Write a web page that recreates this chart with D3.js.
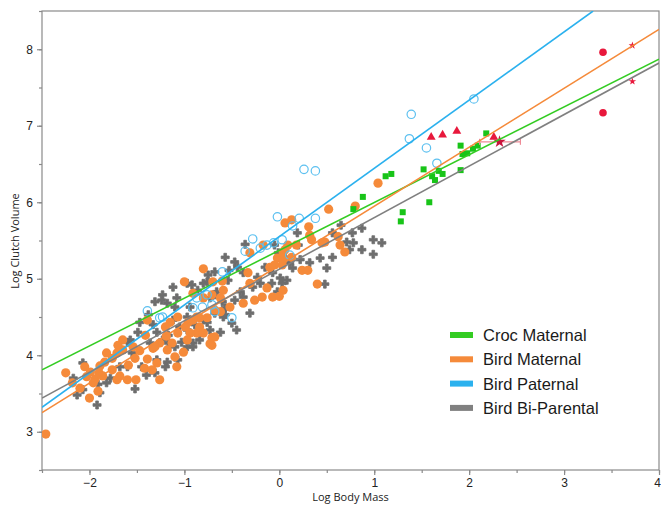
<!DOCTYPE html>
<html>
<head>
<meta charset="utf-8">
<script src="https://cdn.jsdelivr.net/npm/d3@7"></script>
<style>
  body { margin: 0; background: #fff; }
  svg { display: block; font-family: "Open Sans", "DejaVu Sans", sans-serif; }
</style>
</head>
<body>
<script>
// ---- data (log body mass, log clutch volume) ----
const birdMaternal = [
  [-2.46,2.97],[-2.25,3.77],[-2.05,3.85],[-1.99,3.78],[-2.03,3.72],[-1.94,3.69],[-2.00,3.44],[-1.91,3.53],
  [-1.96,3.64],[-1.82,4.03],[-1.84,3.91],[-1.76,3.96],[-1.71,4.03],[-1.65,4.07],[-1.71,3.68],[-1.60,3.68],
  [-1.51,3.68],[-1.59,3.87],[-1.52,3.96],[-1.47,4.06],[-1.39,3.95],[-1.33,4.09],[-1.26,4.16],[-1.19,4.25],
  [-1.18,4.07],[-1.10,3.98],[-1.08,3.85],[-1.13,4.16],[-1.76,3.81],[-1.90,3.77],[-0.68,4.24],[-0.71,4.13],
  [-0.96,4.43],[-0.87,4.29],[-0.84,4.37],[-0.94,4.29],[-1.29,3.90],[-1.54,4.11],[-1.65,4.20],[-0.80,5.13],
  [-1.00,4.96],[-0.91,4.81],[-0.80,4.75],[-0.70,4.96],[-0.59,4.85],[-0.62,4.75],[-0.87,4.50],[-1.07,4.50],
  [-1.39,4.46],[-0.60,4.97],[-0.71,4.79],[-0.33,5.08],[-0.31,4.94],[-0.13,4.88],[-0.18,4.76],[-0.26,4.72],
  [-0.07,4.76],[0.04,4.85],[-0.38,4.68],[-0.52,4.63],[-0.62,4.57],[-0.68,4.59],[-0.76,4.49],[-0.84,4.49],
  [-0.91,4.46],[-0.99,4.37],[-1.15,4.43],[-1.20,4.37],[-0.80,4.29],[-0.71,4.23],[-0.73,4.15],[-1.31,4.11],
  [-0.17,5.44],[-0.31,5.34],[-0.02,5.27],[0.03,5.18],[0.06,5.38],[-0.10,5.15],[1.04,6.25],[0.52,5.91],
  [0.80,5.95],[0.06,5.73],[0.13,5.77],[0.31,5.68],[0.32,5.57],[0.34,5.51],[0.45,5.47],[0.48,5.48],
  [0.62,5.55],[0.64,5.44],[0.69,5.35],[0.18,5.44],[0.09,5.44],[0.04,5.35],[0.04,5.25],[-0.05,5.18],
  [0.13,5.28],[0.24,5.11],[0.30,5.11],[0.40,4.93],[0.00,4.77],
  [-2.18,3.64],[-2.10,3.57],[-1.86,3.73],[-1.68,3.73],[-1.42,3.83],[-1.34,3.81],[-1.01,4.04],[-0.97,4.20],
  [-1.07,4.29],[-1.41,4.26],[-1.70,4.13],[-1.89,3.86],[-1.26,3.68]
];

const birdBiParental = [
  [-2.07,3.90],[-2.17,3.70],[-2.13,3.48],[-2.07,3.55],[-1.92,3.35],[-1.89,3.51],[-1.82,3.64],[-1.91,3.62],
  [-1.68,3.85],[-1.60,3.85],[-1.52,3.56],[-1.45,3.85],[-1.40,3.74],[-1.31,3.77],[-1.29,3.94],[-1.60,4.17],
  [-1.49,4.30],[-1.36,4.16],[-1.17,4.16],[-1.18,3.91],[-1.10,4.11],[-1.55,4.03],[-1.78,3.70],[-1.20,3.85],
  [-1.07,3.94],[-0.97,4.11],[-0.91,4.16],[-0.76,4.43],[-0.68,4.55],[-1.18,4.68],[-1.31,4.70],[-1.57,4.20],
  [-1.05,4.37],[-0.97,4.50],[-1.10,4.63],[-1.12,4.89],[-1.23,4.79],[-1.47,4.43],[-1.38,4.53],[-0.92,4.92],
  [-0.76,4.96],[-0.68,5.09],[-0.57,5.28],[-0.54,4.98],[-0.66,4.83],[-0.73,4.75],[-0.59,4.50],[-0.80,4.46],
  [-1.12,4.46],[-0.47,5.22],[-0.44,5.15],[-0.38,5.08],[-0.53,5.11],[-0.36,5.45],[-0.23,5.02],[-0.20,4.94],
  [-0.28,4.89],[-0.15,5.15],[-0.07,5.08],[-0.08,4.94],[-0.02,4.83],[0.03,4.94],[0.08,4.98],[-0.01,5.34],
  [0.06,5.28],[-0.75,5.05],[-0.80,4.94],[-0.86,4.85],[-0.97,4.94],[-1.24,4.72],[-1.08,4.75],[-0.94,4.63],
  [-0.68,4.79],[-0.60,4.70],[-0.57,4.62],[-0.47,4.72],[-0.57,4.53],[-0.50,4.42],[-0.45,4.33],[-0.31,4.55],
  [-0.62,4.30],[-0.73,4.33],[-0.89,4.40],[-0.97,4.33],[-1.03,4.17],[-1.17,4.26],[-1.23,4.20],[-1.29,4.30],
  [-1.33,4.40],[-0.84,4.20],[-0.91,4.11],[0.65,5.70],[0.56,5.60],[0.77,5.60],[0.87,5.66],[0.99,5.51],
  [1.08,5.47],[0.78,5.47],[0.87,5.38],[0.74,5.38],[0.56,5.28],[0.43,5.27],[0.32,5.21],[0.22,5.25],
  [0.11,5.21],[0.14,5.14],[0.50,5.14],[0.48,4.93],[0.99,5.32],[0.19,5.60],[0.20,5.44],[-0.05,5.44],
  [0.01,5.01],[0.71,5.48],[-0.41,4.83],[-0.38,4.76]
];

const birdPaternal = [
  [-1.39,4.58],[-1.26,4.49],[-1.23,4.50],[-0.91,4.62],[-0.81,4.63],[-0.71,4.66],[-0.68,4.57],[-0.87,4.75],
  [-0.76,4.79],[-0.60,5.09],[-0.50,4.49],[-0.36,5.36],[-0.28,5.52],[-0.20,5.40],[-0.13,5.44],[-0.06,5.47],
  [0.03,5.51],[0.11,5.31],[-0.02,5.81],[0.14,5.69],[0.21,5.79],[0.38,5.79],[0.26,6.43],[0.38,6.41],
  [1.37,6.83],[1.39,7.15],[1.55,6.71],[1.66,6.51],[2.05,7.35]
];

const crocMaternal = [
  [0.78,5.91],[0.88,6.07],[1.12,6.34],[1.18,6.37],[1.28,5.75],[1.30,5.87],[1.52,6.43],[1.58,6.00],
  [1.61,6.34],[1.64,6.29],[1.68,6.41],[1.72,6.37],[1.91,6.74],[1.91,6.42],[1.93,6.63],[1.98,6.64],
  [2.04,6.70],[2.09,6.74],[2.18,6.90]
];

const redTriangles = [[1.60,6.85],[1.72,6.88],[1.87,6.93],[2.26,6.85]];
const redStar = { x: 2.32, y: 6.79, lo: 2.11, hi: 2.54 };
const redCircles = [[3.41,7.96],[3.41,7.17]];
const redSmall = [[3.72,8.05],[3.72,7.58]];

// fitted lines: [x0, y0, x1, y1]
const fitNames = ["Croc Maternal", "Bird Maternal", "Bird Paternal", "Bird Bi-Parental"];
const fitColors = ["#33cc22", "#f58a3a", "#2bb1ee", "#808080"];
const fitLines = [
  [-2.5, 3.81, 4.0, 7.87],
  [-2.5, 3.25, 4.0, 8.26],
  [-2.5, 3.32, 3.306, 8.5],
  [-2.5, 3.44, 4.0, 7.82]
];

const xTicks = [-2, -1, 0, 1, 2, 3, 4];
const yTicks = [3, 4, 5, 6, 7, 8];

// ---- layout ----
const W = 661, H = 508;
const plot = { left: 42, right: 659, top: 11, bottom: 470 };

const svg = d3.select("body").append("svg")
  .attr("width", W)
  .attr("height", H);

const x = d3.scaleLinear().domain([-2.5, 4]).range([plot.left, plot.right]);
const y = d3.scaleLinear().domain([2.5, 8.5]).range([plot.bottom, plot.top]);

// clip for the marks
svg.append("clipPath").attr("id", "clip")
  .append("rect")
  .attr("x", plot.left).attr("y", plot.top)
  .attr("width", plot.right - plot.left).attr("height", plot.bottom - plot.top);

// frame
svg.append("rect")
  .attr("x", plot.left).attr("y", plot.top)
  .attr("width", plot.right - plot.left).attr("height", plot.bottom - plot.top)
  .attr("fill", "none")
  .attr("stroke", "#8a8a8a")
  .attr("stroke-width", 1.2);

// axes
function styleAxis(g) {
  g.select(".domain").remove();
  g.selectAll(".tick line").attr("stroke", "#8a8a8a").attr("stroke-width", 1.2);
  g.selectAll(".tick text").attr("fill", "#222").style("font-size", "12px");
}

const minorX = d3.range(-2.5, 4.01, 0.5);
const minorY = d3.range(2.5, 8.51, 0.5);
const intFmt = d => d < 0 ? "\u2212" + Math.abs(d) : String(d);

svg.append("g")
  .attr("transform", "translate(0," + plot.bottom + ")")
  .call(d3.axisBottom(x).tickValues(minorX).tickSize(3).tickFormat(""))
  .call(styleAxis);
const xAxisG = svg.append("g")
  .attr("transform", "translate(0," + plot.bottom + ")")
  .call(d3.axisBottom(x).tickValues(xTicks).tickSize(5).tickPadding(3).tickFormat(intFmt))
  .call(styleAxis);
// last label sits on the edge of the picture, pull it in a little
xAxisG.selectAll(".tick text").filter(d => d === 4).attr("dx", "-2px");

svg.append("g")
  .attr("transform", "translate(" + plot.left + ",0)")
  .call(d3.axisLeft(y).tickValues(minorY).tickSize(3).tickFormat(""))
  .call(styleAxis);
svg.append("g")
  .attr("transform", "translate(" + plot.left + ",0)")
  .call(d3.axisLeft(y).tickValues(yTicks).tickSize(5).tickPadding(4).tickFormat(intFmt))
  .call(styleAxis);

// axis titles
svg.append("text")
  .attr("x", (plot.left + plot.right) / 2)
  .attr("y", 501)
  .attr("text-anchor", "middle")
  .style("font-size", "11px")
  .attr("fill", "#222")
  .text("Log Body Mass");

svg.append("text")
  .attr("transform", "translate(19," + 241 + ")rotate(-90)")
  .attr("text-anchor", "middle")
  .style("font-size", "11px")
  .attr("fill", "#222")
  .text("Log Clutch Volume");

const marks = svg.append("g").attr("clip-path", "url(#clip)");

// bi-parental crosses
marks.selectAll(".bi")
  .data(birdBiParental)
  .enter()
  .append("path")
    .attr("class", "bi")
    .attr("d", d3.symbol().type(d3.symbolCross).size(36))
    .attr("transform", d => "translate(" + x(d[0]) + "," + y(d[1]) + ")")
    .attr("fill", "#6e6e6e")
    .attr("stroke", "#6e6e6e")
    .attr("stroke-width", 0.8)
    .attr("stroke-linejoin", "round");

// maternal bird dots
marks.selectAll(".bm")
  .data(birdMaternal)
  .enter()
  .append("circle")
    .attr("class", "bm")
    .attr("cx", d => x(d[0]))
    .attr("cy", d => y(d[1]))
    .attr("r", 4.6)
    .attr("fill", "#f58a3a");

// paternal open circles
marks.selectAll(".bp")
  .data(birdPaternal)
  .enter()
  .append("circle")
    .attr("class", "bp")
    .attr("cx", d => x(d[0]))
    .attr("cy", d => y(d[1]))
    .attr("r", 4.2)
    .attr("fill", "none")
    .attr("stroke", "#5cc0f0")
    .attr("stroke-width", 1.2);

// croc squares
marks.selectAll(".cm")
  .data(crocMaternal)
  .enter()
  .append("rect")
    .attr("class", "cm")
    .attr("x", d => x(d[0]) - 3)
    .attr("y", d => y(d[1]) - 3)
    .attr("width", 6)
    .attr("height", 6)
    .attr("fill", "#18c418");

// red extras
const red = "#e8183c";
marks.selectAll(".rt")
  .data(redTriangles)
  .enter()
  .append("path")
    .attr("d", d3.symbol().type(d3.symbolTriangle).size(34))
    .attr("transform", d => "translate(" + x(d[0]) + "," + y(d[1]) + ")")
    .attr("fill", red);

marks.append("line")
  .attr("x1", x(redStar.lo)).attr("x2", x(redStar.hi))
  .attr("y1", y(redStar.y)).attr("y2", y(redStar.y))
  .attr("stroke", "#ee8a96").attr("stroke-width", 1.2);
[redStar.lo, redStar.hi].forEach(v => {
  marks.append("line")
    .attr("x1", x(v)).attr("x2", x(v))
    .attr("y1", y(redStar.y) - 3).attr("y2", y(redStar.y) + 3)
    .attr("stroke", "#ee8a96").attr("stroke-width", 1.2);
});
marks.append("path")
  .attr("d", d3.symbol().type(d3.symbolStar).size(48))
  .attr("transform", "translate(" + x(redStar.x) + "," + y(redStar.y) + ")")
  .attr("fill", "#c8143c");

marks.selectAll(".rc")
  .data(redCircles)
  .enter()
  .append("circle")
    .attr("cx", d => x(d[0]))
    .attr("cy", d => y(d[1]))
    .attr("r", 3.8)
    .attr("fill", red);

marks.selectAll(".rs")
  .data(redSmall)
  .enter()
  .append("path")
    .attr("d", d3.symbol().type(d3.symbolStar).size(18))
    .attr("transform", d => "translate(" + x(d[0]) + "," + y(d[1]) + ")")
    .attr("fill", red);

// fit lines on top
marks.selectAll(".fit")
  .data(fitLines)
  .enter()
  .append("line")
    .attr("x1", d => x(d[0])).attr("y1", d => y(d[1]))
    .attr("x2", d => x(d[2])).attr("y2", d => y(d[3]))
    .attr("stroke", (d, i) => fitColors[i])
    .attr("stroke-width", 1.6);

// legend
const legend = svg.append("g").attr("transform", "translate(450,335)");
fitNames.forEach((name, i) => {
  const row = legend.append("g").attr("transform", "translate(0," + i * 24.3 + ")");
  row.append("rect")
    .attr("x", 0).attr("y", -3)
    .attr("width", 23).attr("height", 6)
    .attr("fill", fitColors[i]);
  row.append("text")
    .attr("x", 33).attr("y", 6)
    .style("font-family", "'Liberation Sans', Arial, sans-serif")
    .style("font-size", "16.5px")
    .attr("fill", "#1a1a1a")
    .text(name);
});
</script>
</body>
</html>
